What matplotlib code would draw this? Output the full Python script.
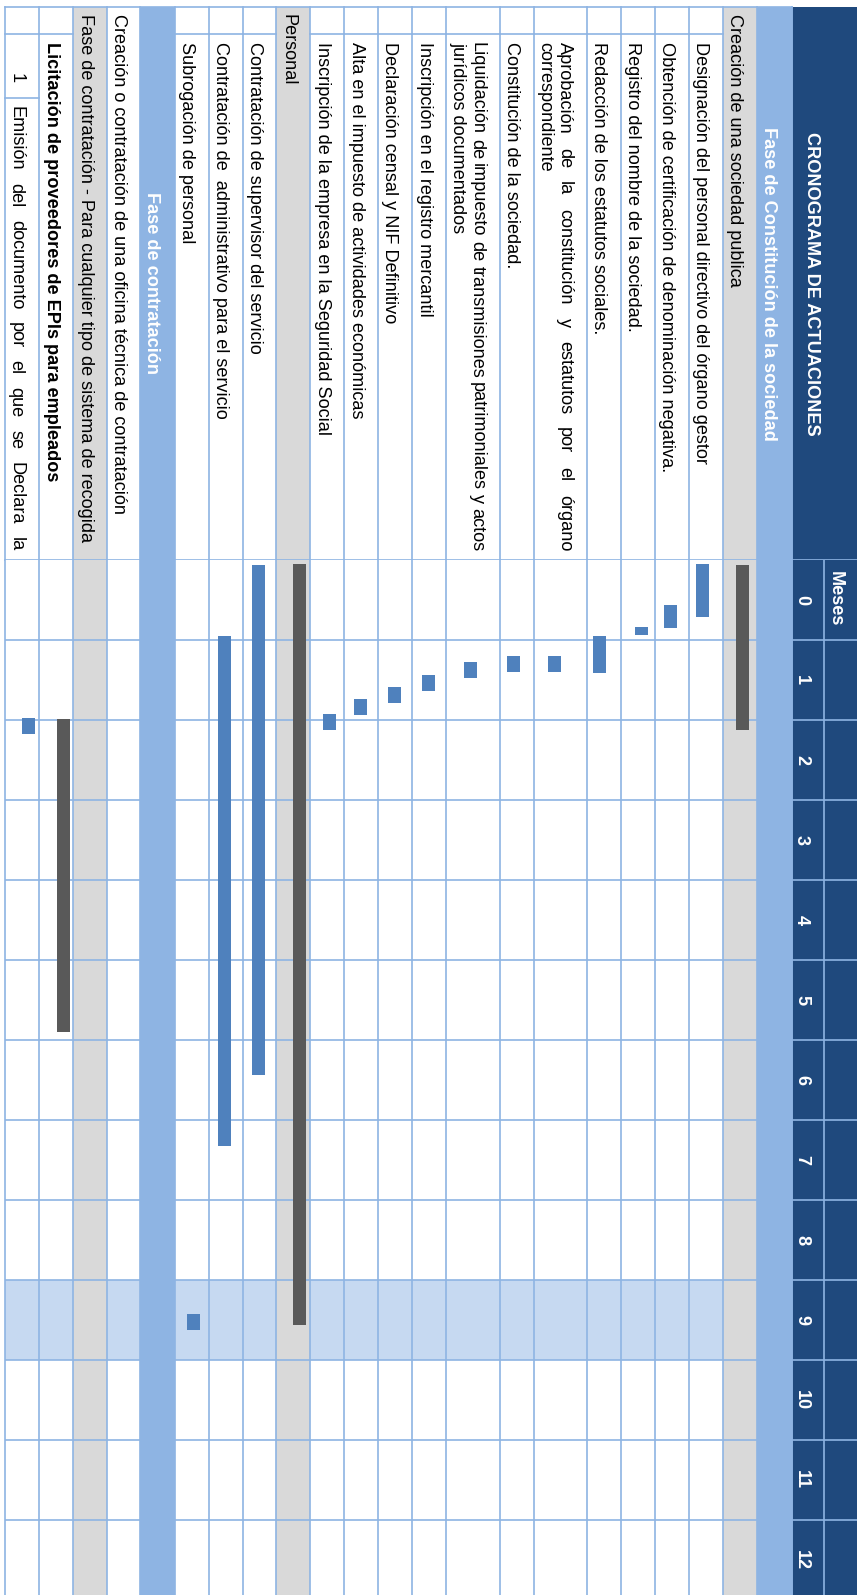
import matplotlib
matplotlib.use("Agg")
import matplotlib.pyplot as plt
from matplotlib.patches import Rectangle

# datos del cronograma
titulo = "CRONOGRAMA DE ACTUACIONES"
cabecera_meses = "Meses"
meses = list(range(13))
mes_destacado = 9

tareas = [
    "Fase de Constitución de la sociedad",
    "Creación de una sociedad publica",
    "Designación del personal directivo del órgano gestor",
    "Obtención de certificación de denominación negativa.",
    "Registro del nombre de la sociedad.",
    "Redacción de los estatutos sociales.",
    "Aprobación de la constitución y estatutos por el órgano\ncorrespondiente",
    "Constitución de la sociedad.",
    "Liquidación de impuesto de transmisiones patrimoniales y actos\njurídicos documentados",
    "Inscripción en el registro mercantil",
    "Declaración censal y NIF Definitivo",
    "Alta en el impuesto de actividades económicas",
    "Inscripción de la empresa en la Seguridad Social",
    "Personal",
    "Contratación de supervisor del servicio",
    "Contratación de  administrativo para el servicio",
    "Subrogación de personal",
    "Fase de contratación",
    "Creación o contratación de una oficina técnica de contratación",
    "Fase de contratación - Para cualquier tipo de sistema de recogida",
    "Licitación de proveedores de EPIs para empleados",
    "Emisión del documento por el que se Declara la",
]
tipo = ["fase", "grupo", "tarea", "tarea", "tarea", "tarea", "tarea", "tarea",
        "tarea", "tarea", "tarea", "tarea", "tarea", "grupo", "tarea", "tarea",
        "tarea", "fase", "simple", "grupo", "negrita", "item"]
numero = [""] * 21 + ["1"]

# inicio / fin en meses (None = sin barra)
inicio = [None, 0.06, 0.05, 0.56, 0.84, 0.95, 1.20, 1.20, 1.28, 1.44, 1.59, 1.74,
          1.93, 0.05, 0.06, 0.95, 9.43, None, None, None, 1.99, 1.975]
fin = [None, 2.13, 0.71, 0.85, 0.94, 1.415, 1.40, 1.40, 1.48, 1.64, 1.79, 1.94,
       2.13, 9.56, 6.44, 7.33, 9.63, None, None, None, 5.90, 2.175]
resumen = [False, True, False, False, False, False, False, False, False, False,
           False, False, False, True, False, False, False, False, False, False,
           True, False]

# estilos y maquetación (pixeles)
AZUL_OSC = "#1F497D"
AZUL_FASE = "#8EB4E3"
AZUL_CLARO = "#C6D9F1"
GRIS = "#D9D9D9"
LINEA = "#8EB4E3"
BARRA = "#4F81BD"
BARRA_RES = "#595959"
FUENTE = "Liberation Sans"
FS = 13.05

W, H = 857, 1595
TOP, Y_MESES, ANCHO_MES = 7, 560, 80
fila_alto = [35, 34, 34, 34, 34, 34, 53, 34, 53.5, 34.5, 34, 34, 34, 34,
             33, 34, 34, 35, 33, 34, 34, 33.5]
cab_alto = [33, 32]  # "Meses" y números
# las barras no quedan justo centradas en su fila
barra_desfase = [0, 2.5, -3.5, -1.5, 3.5, -4.5, -6, -3.5, -2.75, -0.75, -0.5, -0.5,
                 2.5, 6.5, -1, -1.5, 1.5, 0, 0, 0, 7.5, 6.25]

fig = plt.figure(figsize=(W / 100, H / 100), dpi=100)
ax = fig.add_axes([0, 0, 1, 1])
ax.set_xlim(0, W)
ax.set_ylim(H, 0)
ax.axis("off")

nvis = (H - Y_MESES) / ANCHO_MES
gx = fig.add_axes([0, 0, 1, (H - Y_MESES) / H])
gx.set_xlim(0, W)
gx.set_ylim(nvis, 0)
gx.axis("off")

# bordes de filas (de derecha a izquierda en la imagen)
der = [W]
for h in cab_alto:
    der.append(der[-1] - h)
fila_der = []
x = der[-1]
for h in fila_alto:
    fila_der.append(x)
    x -= h
borde_izq = x


def color_fila(t):
    if t == "fase":
        return AZUL_FASE
    if t == "grupo":
        return GRIS
    return "white"


# cabecera oscura
ax.add_patch(Rectangle((der[2], TOP), W - der[2], Y_MESES - TOP, color=AZUL_OSC, lw=0))
gx.bar((der[2] + W) / 2, 14, bottom=0, width=W - der[2], color=AZUL_OSC, lw=0)

# fondos de filas
for i, t in enumerate(tipo):
    h = fila_alto[i]
    cx = fila_der[i] - h / 2
    c = color_fila(t)
    ax.add_patch(Rectangle((fila_der[i] - h, TOP), h, Y_MESES - TOP, color=c, lw=0))
    gx.bar(cx, 14, bottom=0, width=h, color=c, lw=0)
    if c == "white":
        gx.bar(cx, 1, bottom=mes_destacado, width=h, color=AZUL_CLARO, lw=0)

# lineas de la tabla
lw = 1.2
todas = der + fila_der + [borde_izq]
for xb in todas:
    if xb == W:
        continue
    if xb != der[1]:
        ax.plot([xb, xb], [TOP, Y_MESES], color=LINEA, lw=lw)
    gx.axvline(xb, color=LINEA, lw=lw)
ax.plot([borde_izq, der[2]], [TOP, TOP], color=LINEA, lw=lw)
ax.plot([borde_izq, W], [Y_MESES, Y_MESES], color=LINEA, lw=lw)
gx.hlines(meses[1:], borde_izq, W, color=LINEA, lw=lw)

SANGRIA, NUM_FIN = 34.4, 97.5
for i, t in enumerate(tipo):
    if t in ("tarea", "negrita", "item"):
        ax.plot([fila_der[i] - fila_alto[i], fila_der[i]], [SANGRIA, SANGRIA], color=LINEA, lw=lw)
    if numero[i]:
        ax.plot([fila_der[i] - fila_alto[i], fila_der[i]], [NUM_FIN, NUM_FIN], color=LINEA, lw=lw)

# barras
for i in range(len(tareas)):
    if inicio[i] is None:
        continue
    cx = fila_der[i] - fila_alto[i] / 2 + barra_desfase[i]
    gx.bar(cx, fin[i] - inicio[i], bottom=inicio[i], width=13,
           color=BARRA_RES if resumen[i] else BARRA, lw=0, zorder=5)

renderer = fig.canvas.get_renderer()


def justificar(x, y0, y1, linea, **kw):
    palabras = linea.split()
    anchos = []
    for p in palabras:
        t = ax.text(0, 0, p, fontsize=FS, family=FUENTE)
        anchos.append(t.get_window_extent(renderer).width)
        t.remove()
    hueco = (y1 - y0 - sum(anchos)) / (len(palabras) - 1)
    y = y0
    for p, a in zip(palabras, anchos):
        ax.text(x, y, p, fontsize=FS, family=FUENTE, rotation=270,
                ha="center", va="top", **kw)
        y += a + hueco


# textos de la cabecera
ax.text(812, (TOP + Y_MESES) / 2, titulo, fontsize=FS, family=FUENTE, weight="bold",
        color="white", rotation=270, ha="center", va="center")
gx.annotate(cabecera_meses, (835, 0), xytext=(0, -11 * 0.72), textcoords="offset points",
            fontsize=FS, family=FUENTE, weight="bold", color="white",
            rotation=270, ha="center", va="top", zorder=6)
for m in meses:
    gx.text(801.5, m + 0.5, str(m), fontsize=FS, family=FUENTE, weight="bold",
            color="white", rotation=270, ha="center", va="center")

# textos de las filas
for i, (txt, t) in enumerate(zip(tareas, tipo)):
    h = fila_alto[i]
    cx = fila_der[i] - h / 2
    if t == "fase":
        ax.text(cx - 6, (TOP + Y_MESES) / 2, txt, fontsize=FS, family=FUENTE,
                weight="bold", color="white", rotation=270, ha="center", va="center")
        continue
    y0 = TOP + 7 if t in ("grupo", "simple") else SANGRIA + 8
    peso = "bold" if t == "negrita" else "normal"
    if numero[i]:
        ax.text(cx - 6, 73, numero[i], fontsize=FS, family=FUENTE, rotation=270,
                ha="center", va="top")
        justificar(cx - 6, NUM_FIN + 8, 551, txt)
        continue
    lineas = txt.split("\n")
    if len(lineas) == 2:
        justificar(cx + 4, y0, 551, lineas[0])
        ax.text(cx - 15.5, y0, lineas[1], fontsize=FS, family=FUENTE,
                rotation=270, ha="center", va="top")
    else:
        ax.text(cx - 5, y0, txt, fontsize=FS, family=FUENTE, weight=peso,
                rotation=270, ha="center", va="top")

fig.savefig("out.png", dpi=100)
